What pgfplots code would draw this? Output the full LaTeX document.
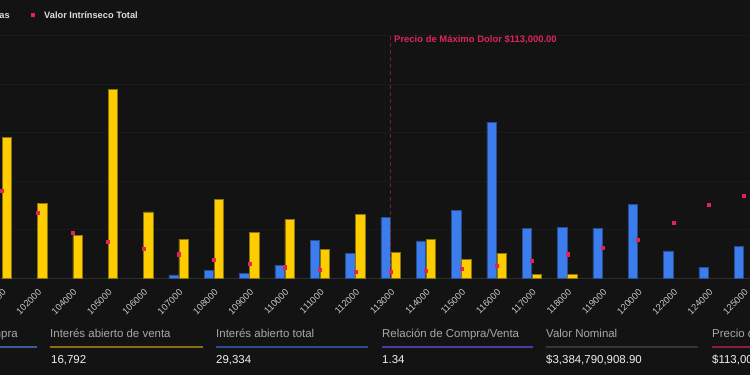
\documentclass[border=0pt]{standalone}
\usepackage{pgfplots}
\pgfplotsset{compat=1.18}
\usepackage{fontspec}
\setmainfont{Liberation Sans}
\definecolor{bg}{HTML}{131313}
\definecolor{gridc}{HTML}{1A1A1A}
\definecolor{axc}{HTML}{2E2E2E}
\definecolor{tickc}{HTML}{C8C8C8}
\definecolor{bluef}{HTML}{3B7DED}
\definecolor{blued}{HTML}{2A4D8F}
\definecolor{yelf}{HTML}{FFCC00}
\definecolor{yeld}{HTML}{8A7410}
\definecolor{redm}{HTML}{E0245A}
\definecolor{redd}{HTML}{7A1E32}
\definecolor{labc}{HTML}{A8A8A8}
\definecolor{valc}{HTML}{F0F0F0}
\definecolor{legc}{HTML}{DDDDDD}
\definecolor{c1}{HTML}{3B5B9C}
\definecolor{c2}{HTML}{8A6E14}
\definecolor{c3}{HTML}{2D4B8F}
\definecolor{c4}{HTML}{4A3AAA}
\definecolor{c5}{HTML}{36363A}
\definecolor{c6}{HTML}{8C1E3A}
\begin{document}
\begin{tikzpicture}[x=1bp,y=1bp]
\useasboundingbox (0,0) rectangle (750,375);
\fill[bg] (0,0) rectangle (750,375);
\begin{axis}[
  at={(0bp,97bp)}, anchor=south west,
  scale only axis, width=750bp, height=242.5bp,
  xmin=-0.0566, xmax=21.17, ymin=0, ymax=5000,
  axis line style={draw=none},
  ytick={1000,2000,3000,4000,5000}, yticklabels={},
  ymajorgrids, grid style={color=gridc, line width=0.8bp},
  y tick style={draw=none}, x tick style={draw=none},
  xtick={0,...,21},
  xticklabels={100000,102000,104000,105000,106000,107000,108000,109000,110000,111000,112000,113000,114000,115000,116000,117000,118000,119000,120000,122000,124000,125000},
  xticklabel style={font=\fontsize{9.3}{10}\selectfont, text=tickc, inner sep=0pt, xshift=2.5bp, yshift=-8.5bp, rotate=45, anchor=east},
  ybar, bar width=9.5bp,
]
\draw[axc, line width=1bp] (axis cs:-1,0) -- (axis cs:22,0);
\addplot[ybar, bar shift=-5bp, fill=bluef, draw=blued, line width=0.8bp] coordinates {
 (5,62) (6,159) (7,97) (8,268) (9,777) (10,509) (11,1243) (12,763) (13,1396) (14,3211)
 (15,1017) (16,1037) (17,1017) (18,1520) (19,557) (20,221) (21,645)};
\addplot[ybar, bar shift=5bp, fill=yelf, draw=yeld, line width=0.8bp] coordinates {
 (0,2893) (1,1532) (2,880) (3,3891) (4,1361) (5,798) (6,1614) (7,934) (8,1210) (9,592)
 (10,1313) (11,522) (12,798) (13,386) (14,509) (15,68) (16,68)};
\addplot[sharp plot, redd, line width=1bp, dash pattern=on 4bp off 3bp] coordinates {(11,0) (11,5000)};
\addplot[only marks, mark=square*, mark size=1.6bp, mark options={fill=redm, draw=redm}] coordinates {
 (0,1800) (1,1347) (2,942) (3,749) (4,604) (5,489) (6,377) (7,295) (8,221) (9,171) (10,138)
 (11,130) (12,144) (13,186) (14,247) (15,357) (16,489) (17,633) (18,790) (19,1140) (20,1511) (21,1697)};
\end{axis}
% legend
\node[anchor=base east, inner sep=0pt, text=legc, font=\bfseries\fontsize{9.3}{10}\selectfont] at (10,356.7) {Interés abierto de ventas};
\fill[redm] (31,358) rectangle (35,362);
\node[anchor=base west, inner sep=0pt, text=legc, font=\bfseries\fontsize{9.3}{10}\selectfont] at (44,356.7) {Valor Intrínseco Total};
% max pain label
\node[anchor=base west, inner sep=0pt, text=redm, font=\bfseries\fontsize{9.5}{10}\selectfont] at (394,333) {Precio de Máximo Dolor \$113,000.00};
% cards
\tikzset{lab/.style={anchor=base west, inner sep=0pt, text=labc, font=\fontsize{11.5}{12}\selectfont},
         val/.style={anchor=base west, inner sep=0pt, text=valc, font=\fontsize{11.5}{12}\selectfont}}
\node[lab, anchor=base east] at (18,37.3) {Interés abierto de compra};
\draw[c1, line width=2bp] (-116,28.3) -- (37,28.3);
\node[val] at (-116,11.7) {12,542};
\node[lab] at (50,37.3) {Interés abierto de venta};
\draw[c2, line width=2bp] (50,28.3) -- (203,28.3);
\node[val] at (51,11.7) {16,792};
\node[lab] at (216,37.3) {Interés abierto total};
\draw[c3, line width=2bp] (216,28.3) -- (368,28.3);
\node[val] at (216,11.7) {29,334};
\node[lab] at (382,37.3) {Relación de Compra/Venta};
\draw[c4, line width=2bp] (382,28.3) -- (533,28.3);
\node[val] at (382,11.7) {1.34};
\node[lab] at (546,37.3) {Valor Nominal};
\draw[c5, line width=2bp] (546,28.3) -- (698,28.3);
\node[val] at (546,11.7) {\$3,384,790,908.90};
\node[lab] at (712,37.3) {Precio de Máximo Dolor};
\draw[c6, line width=2bp] (712,28.3) -- (864,28.3);
\node[val] at (712,11.7) {\$113,000.00};
\end{tikzpicture}
\end{document}
